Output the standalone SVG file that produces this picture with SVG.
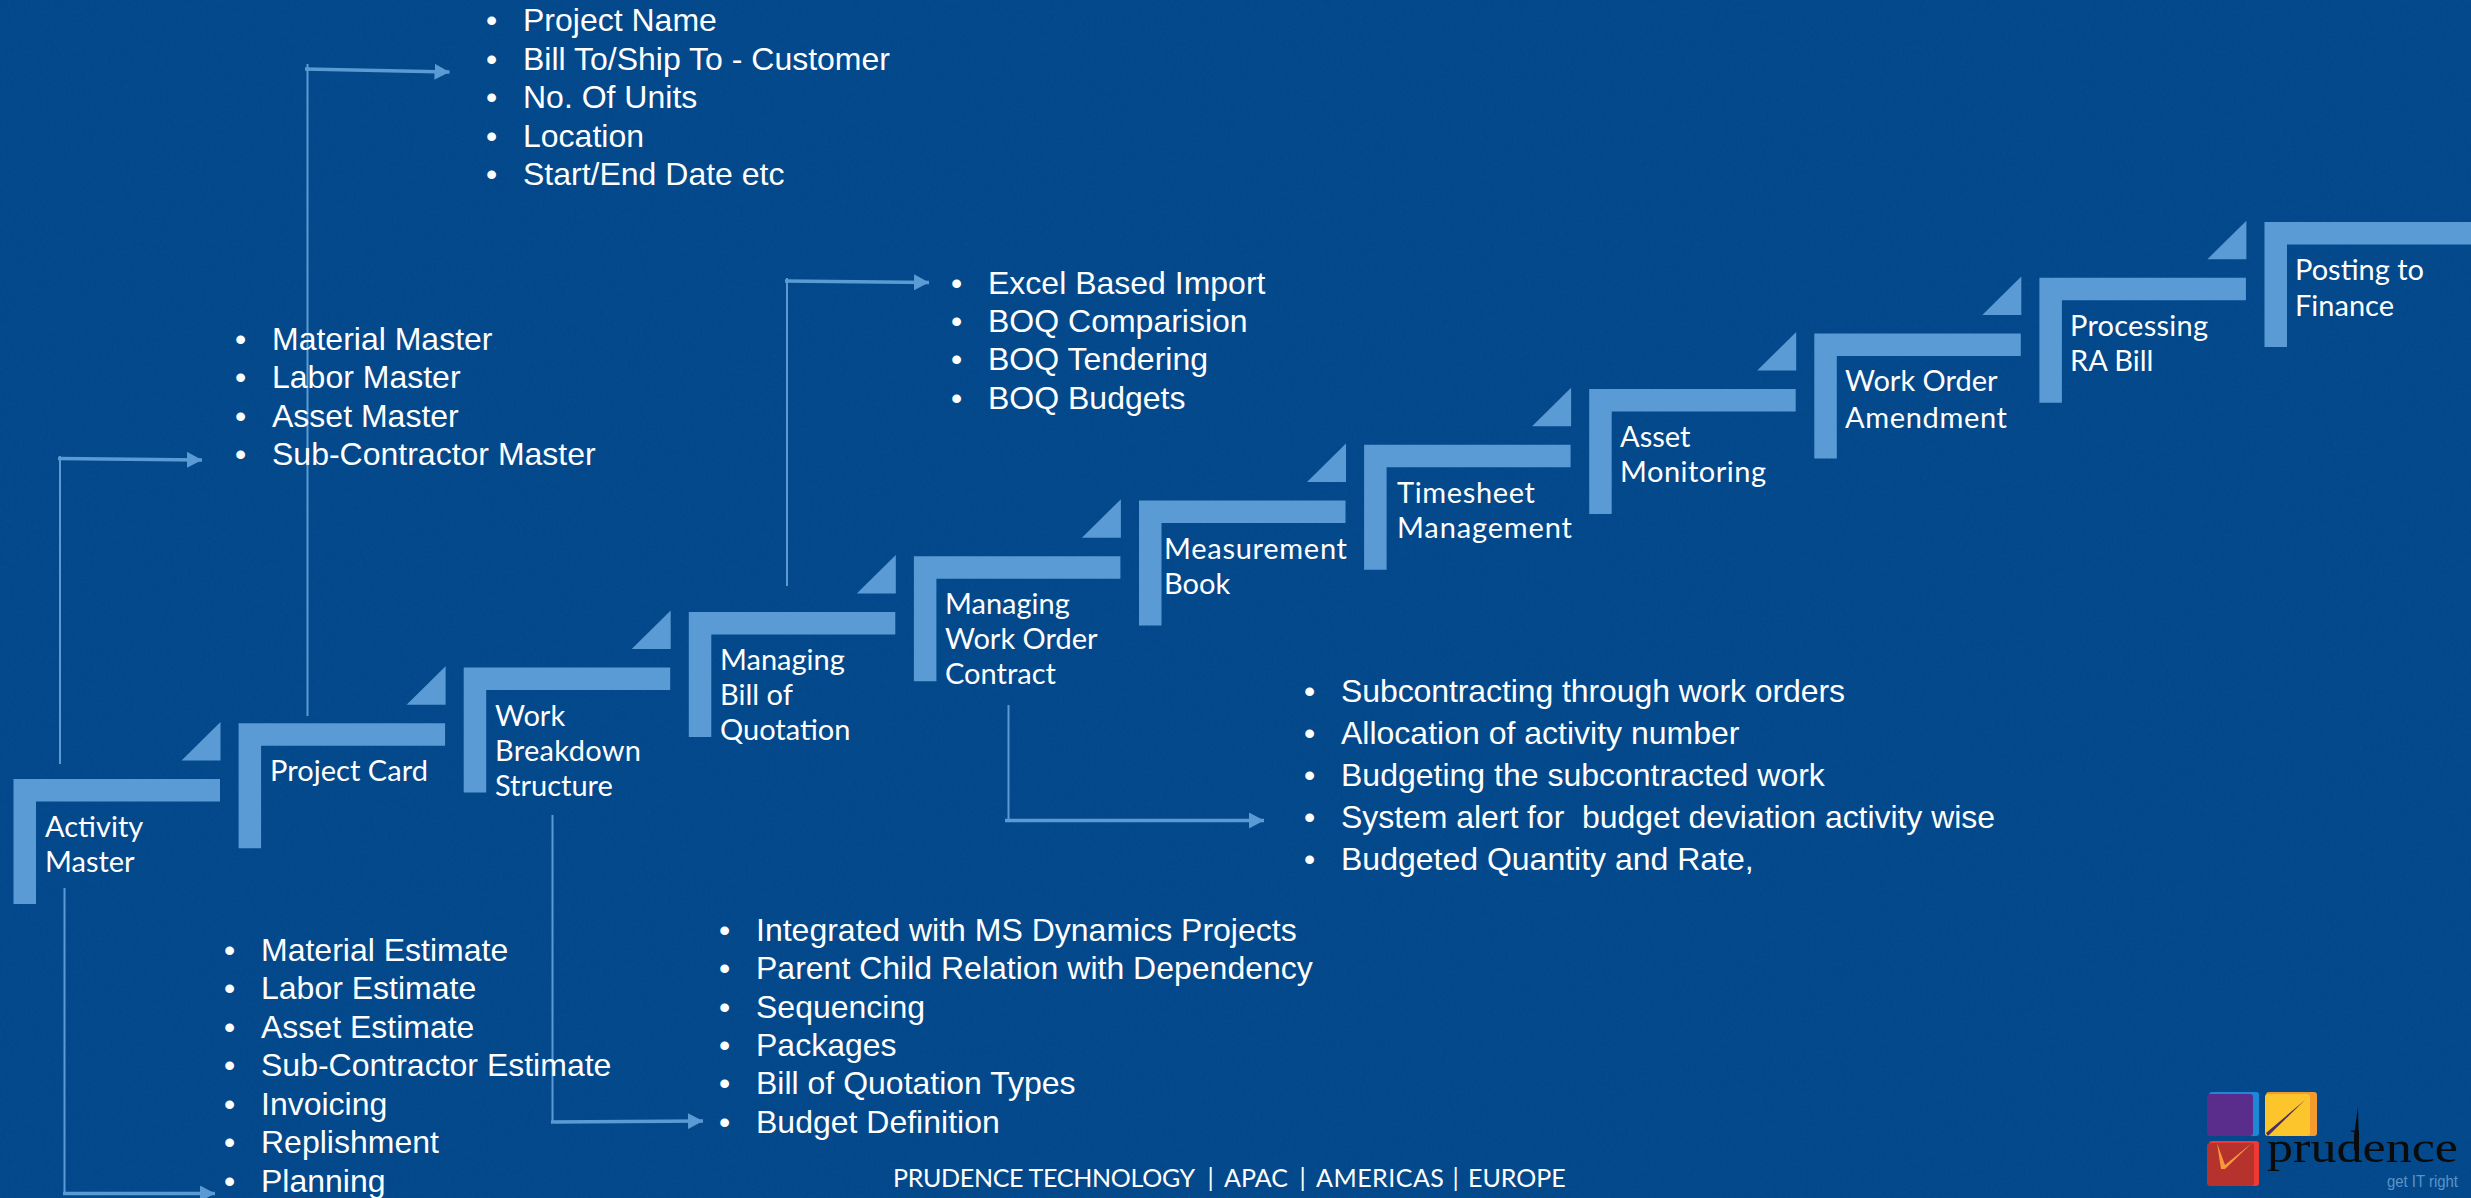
<svg xmlns="http://www.w3.org/2000/svg" width="2471" height="1198" viewBox="0 0 2471 1198">
<style>
.s{fill:#5b9bd5}
.t{font-family:"Lato","Carlito","Open Sans",sans-serif;font-size:29px;fill:#fff}
.b{font-family:"Liberation Sans",Arial,sans-serif;font-size:32px;fill:#fff}
.v{stroke:#5b9bd5;stroke-width:2;fill:none}
.h{stroke:#5b9bd5;stroke-width:3.500;fill:none;marker-end:url(#a)}
</style>
<defs>
<marker id="a" markerUnits="userSpaceOnUse" markerWidth="16" markerHeight="16" refX="15" refY="8" orient="auto"><path d="M0 0L15 8L0 16Z" fill="#5b9bd5"/></marker>
<path id="st" class="s" d="M0 0H206.500V22.500H22.500V125H0Z"/>
<path id="tr" class="s" d="M39 -38.500V0H0Z"/>
<filter id="n" x="0" y="0" width="100%" height="100%"><feTurbulence type="fractalNoise" baseFrequency="0.35" numOctaves="2" seed="4"/><feColorMatrix values="0 0 0 0 0.1  0 0 0 0 0.4  0 0 0 0 0.7  0.6 0 0 0 -0.22"/></filter>
</defs>
<rect width="2471" height="1198" fill="#03488a"/>
<rect width="2471" height="1198" filter="url(#n)" opacity="0.12"/>
<g id="connectors">
<path class="v" d="M60 764V456"/><path class="h" d="M58 458.500L202 460"/>
<path class="v" d="M307.500 716V64"/><path class="h" d="M305 69L449.500 72"/>
<path class="v" d="M787 586V278"/><path class="h" d="M785 281L929 282.500"/>
<path class="v" d="M1008.500 705V820"/><path class="h" d="M1005 820.500L1264 820.500"/>
<path class="v" d="M552.500 815V1122"/><path class="h" d="M551 1122L703 1121"/>
<path class="v" d="M64.500 888V1194"/><path class="h" d="M63 1193.500L215 1193.500"/>
</g>
<g id="n1"><use href="#st" x="13.500" y="779"/><use href="#tr" x="181.500" y="760.500"/><text class="t" x="45" y="837">Activity</text><text class="t" x="45" y="872">Master</text></g>
<g id="n2"><use href="#st" x="238.600" y="723.300"/><use href="#tr" x="406.600" y="704.800"/><text class="t" x="270" y="781" textLength="158">Project Card</text></g>
<g id="n3"><use href="#st" x="463.700" y="667.600"/><use href="#tr" x="631.700" y="649.100"/><text class="t" x="495" y="726">Work</text><text class="t" x="495" y="761" textLength="146">Breakdown</text><text class="t" x="495" y="796">Structure</text></g>
<g id="n4"><use href="#st" x="688.800" y="611.900"/><use href="#tr" x="856.800" y="593.400"/><text class="t" x="720" y="670">Managing</text><text class="t" x="720" y="705">Bill of</text><text class="t" x="720" y="740">Quotation</text></g>
<g id="n5"><use href="#st" x="913.900" y="556.200"/><use href="#tr" x="1081.900" y="537.700"/><text class="t" x="945" y="614">Managing</text><text class="t" x="945" y="649">Work Order</text><text class="t" x="945" y="684">Contract</text></g>
<g id="n6"><use href="#st" x="1139" y="500.500"/><use href="#tr" x="1307" y="482"/><text class="t" x="1164" y="559" textLength="183">Measurement</text><text class="t" x="1164" y="594">Book</text></g>
<g id="n7"><use href="#st" x="1364.100" y="444.800"/><use href="#tr" x="1532.100" y="426.300"/><text class="t" x="1397" y="503" textLength="138">Timesheet</text><text class="t" x="1397" y="538" textLength="175">Management</text></g>
<g id="n8"><use href="#st" x="1589.200" y="389.100"/><use href="#tr" x="1757.200" y="370.600"/><text class="t" x="1620" y="447">Asset</text><text class="t" x="1620" y="482" textLength="146">Monitoring</text></g>
<g id="n9"><use href="#st" x="1814.300" y="333.400"/><use href="#tr" x="1982.300" y="314.900"/><text class="t" x="1845" y="391">Work Order</text><text class="t" x="1845" y="428" textLength="162">Amendment</text></g>
<g id="n10"><use href="#st" x="2039.400" y="277.700"/><use href="#tr" x="2207.400" y="259.200"/><text class="t" x="2070" y="336" textLength="138">Processing</text><text class="t" x="2070" y="371">RA Bill</text></g>
<g id="n11"><use href="#st" x="2264.500" y="222"/><text class="t" x="2295" y="280">Posting to</text><text class="t" x="2295" y="316">Finance</text></g>
<g id="list-project" class="b"><text x="486" y="31">•</text><text x="523" y="31">Project Name</text><text x="486" y="70">•</text><text x="523" y="70">Bill To/Ship To - Customer</text><text x="486" y="108">•</text><text x="523" y="108">No. Of Units</text><text x="486" y="147">•</text><text x="523" y="147">Location</text><text x="486" y="185">•</text><text x="523" y="185">Start/End Date etc</text></g>
<g id="list-master" class="b"><text x="235" y="350">•</text><text x="272" y="350">Material Master</text><text x="235" y="388">•</text><text x="272" y="388">Labor Master</text><text x="235" y="427">•</text><text x="272" y="427">Asset Master</text><text x="235" y="465">•</text><text x="272" y="465">Sub-Contractor Master</text></g>
<g id="list-boq" class="b"><text x="951" y="294">•</text><text x="988" y="294">Excel Based Import</text><text x="951" y="332">•</text><text x="988" y="332">BOQ Comparision</text><text x="951" y="370">•</text><text x="988" y="370">BOQ Tendering</text><text x="951" y="409">•</text><text x="988" y="409">BOQ Budgets</text></g>
<g id="list-wo" class="b"><text x="1304" y="702">•</text><text x="1341" y="702" textLength="504">Subcontracting through work orders</text><text x="1304" y="744">•</text><text x="1341" y="744">Allocation of activity number</text><text x="1304" y="786">•</text><text x="1341" y="786">Budgeting the subcontracted work</text><text x="1304" y="828">•</text><text x="1341" y="828" style="white-space:pre" textLength="654">System alert for  budget deviation activity wise</text><text x="1304" y="870">•</text><text x="1341" y="870">Budgeted Quantity and Rate,</text></g>
<g id="list-wbs" class="b"><text x="719" y="941">•</text><text x="756" y="941">Integrated with MS Dynamics Projects</text><text x="719" y="979">•</text><text x="756" y="979">Parent Child Relation with Dependency</text><text x="719" y="1018">•</text><text x="756" y="1018">Sequencing</text><text x="719" y="1056">•</text><text x="756" y="1056">Packages</text><text x="719" y="1094">•</text><text x="756" y="1094">Bill of Quotation Types</text><text x="719" y="1133">•</text><text x="756" y="1133">Budget Definition</text></g>
<g id="list-estimate" class="b"><text x="224" y="961">•</text><text x="261" y="961">Material Estimate</text><text x="224" y="999">•</text><text x="261" y="999">Labor Estimate</text><text x="224" y="1038">•</text><text x="261" y="1038">Asset Estimate</text><text x="224" y="1076">•</text><text x="261" y="1076">Sub-Contractor Estimate</text><text x="224" y="1115">•</text><text x="261" y="1115">Invoicing</text><text x="224" y="1153">•</text><text x="261" y="1153">Replishment</text><text x="224" y="1192">•</text><text x="261" y="1192">Planning</text></g>
<text id="footer" y="1187" font-family="Lato,sans-serif" font-size="25" fill="#fff"><tspan x="893" letter-spacing="-0.3">PRUDENCE TECHNOLOGY</tspan><tspan x="1201"> | </tspan><tspan x="1224">APAC</tspan><tspan x="1293"> | </tspan><tspan x="1316" letter-spacing="0.5">AMERICAS</tspan><tspan x="1446"> | </tspan><tspan x="1468">EUROPE</tspan></text>
<g id="logo">
<rect x="2209" y="1092" width="50" height="44" rx="3" fill="#1e88d8"/><rect x="2207" y="1094" width="46" height="42" rx="3" fill="#5a2d8c"/>
<rect x="2266" y="1092" width="51" height="44" rx="3" fill="#f59a2e"/><rect x="2265" y="1094" width="45" height="42" rx="3" fill="#fcc52b"/>
<path d="M2266 1133L2305 1100L2268 1136Z" fill="#4a2d6c"/>
<rect x="2209" y="1141" width="50" height="45" rx="3" fill="#ee3a33"/><rect x="2207" y="1143" width="47" height="43" rx="3" fill="#b5322d"/>
<path d="M2217 1143L2225 1165L2252 1143L2225 1169L2221 1169Z" fill="#f59a3a"/>
<path d="M2354 1136L2358 1107L2359 1150L2354 1150Z" fill="#0b0b0b"/>
<text x="2267" y="1162" font-family="Liberation Serif,serif" font-size="45" fill="#0b0b0b" textLength="191" lengthAdjust="spacingAndGlyphs">prudence</text>
<text x="2387" y="1187" font-family="Liberation Sans,sans-serif" font-size="17" fill="#5a94c8" textLength="71" lengthAdjust="spacingAndGlyphs">get IT right</text>
</g>
</svg>
